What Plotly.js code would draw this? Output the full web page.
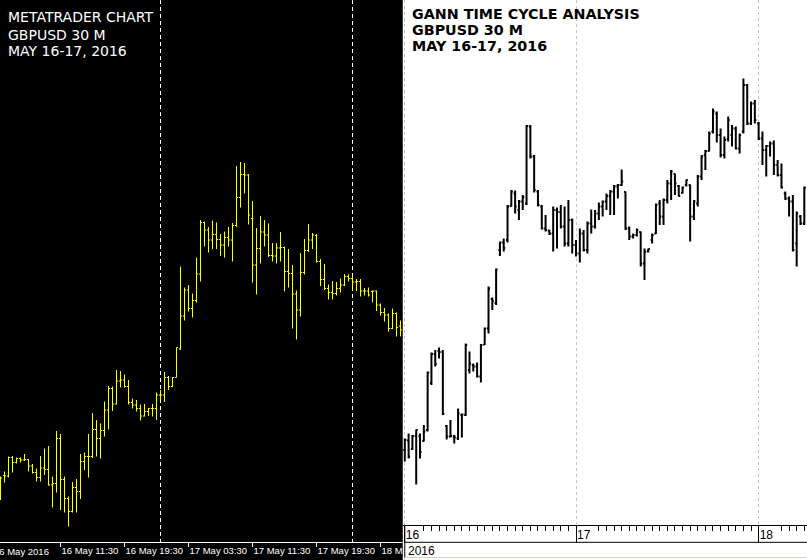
<!DOCTYPE html>
<html><head><meta charset="utf-8">
<script src="https://cdn.plot.ly/plotly-3.0.1.min.js"></script>
<style>html,body{margin:0;padding:0;background:#000;}#chart{width:807px;height:560px;}</style>
</head><body><div id="chart"></div>
<script>
// ---------- LEFT: MetaTrader chart, GBPUSD 30 M, bars from 16 May 2016 04:00 ----------
const leftStart = Date.UTC(2016, 4, 16, 4, 0);
const leftOpen = [1.44040,1.44049,1.44048,1.44085,1.44075,1.44083,1.44080,1.44081,1.44068,1.44055,
1.44045,1.44064,1.44061,1.44030,1.44033,1.44123,1.44041,1.44003,1.43977,1.44025,
1.44017,1.44077,1.44087,1.44087,1.44141,1.44123,1.44139,1.44180,1.44223,1.44192,
1.44238,1.44240,1.44227,1.44195,1.44190,1.44183,1.44168,1.44177,1.44183,1.44183,
1.44210,1.44210,1.44245,1.44227,1.44245,1.44302,1.44368,1.44420,1.44383,1.44399,
1.44452,1.44555,1.44540,1.44520,1.44531,1.44521,1.44510,1.44525,1.44520,1.44549,
1.44605,1.44651,1.44650,1.44563,1.44470,1.44503,1.44536,1.44530,1.44489,1.44488,
1.44504,1.44505,1.44457,1.44453,1.44412,1.44380,1.44455,1.44499,1.44520,1.44529,
1.44477,1.44441,1.44423,1.44415,1.44413,1.44423,1.44430,1.44447,1.44443,1.44436,
1.44437,1.44418,1.44418,1.44417,1.44418,1.44390,1.44375,1.44370,1.44343,1.44373,1.44348];
const leftHigh = [1.44047,1.44057,1.44087,1.44088,1.44085,1.44085,1.44092,1.44082,1.44072,1.44063,
1.44088,1.44103,1.44108,1.44047,1.44138,1.44132,1.44047,1.44007,1.44036,1.44042,
1.44092,1.44095,1.44132,1.44174,1.44160,1.44153,1.44197,1.44228,1.44227,1.44260,
1.44258,1.44251,1.44240,1.44203,1.44200,1.44191,1.44192,1.44184,1.44192,1.44215,
1.44220,1.44256,1.44248,1.44245,1.44305,1.44467,1.44425,1.44430,1.44413,1.44485,
1.44560,1.44557,1.44546,1.44559,1.44555,1.44532,1.44537,1.44546,1.44554,1.44668,
1.44676,1.44674,1.44652,1.44598,1.44544,1.44568,1.44560,1.44553,1.44514,1.44514,
1.44536,1.44507,1.44502,1.44470,1.44419,1.44494,1.44522,1.44552,1.44534,1.44532,
1.44482,1.44472,1.44431,1.44438,1.44436,1.44443,1.44452,1.44451,1.44448,1.44442,
1.44442,1.44424,1.44425,1.44419,1.44419,1.44393,1.44384,1.44373,1.44383,1.44375,1.44359];
const leftLow = [1.44000,1.44035,1.44045,1.44055,1.44073,1.44075,1.44078,1.44057,1.44053,1.44037,
1.44037,1.44050,1.44029,1.43985,1.44015,1.43980,1.43975,1.43947,1.43975,1.43975,
1.44002,1.44060,1.44045,1.44084,1.44087,1.44083,1.44127,1.44141,1.44178,1.44191,
1.44225,1.44225,1.44191,1.44183,1.44177,1.44159,1.44167,1.44168,1.44167,1.44160,
1.44200,1.44196,1.44220,1.44226,1.44245,1.44300,1.44359,1.44377,1.44365,1.44395,
1.44437,1.44507,1.44495,1.44502,1.44502,1.44488,1.44485,1.44507,1.44477,1.44546,
1.44585,1.44613,1.44551,1.44435,1.44411,1.44473,1.44507,1.44486,1.44477,1.44473,
1.44477,1.44417,1.44425,1.44343,1.44321,1.44367,1.44451,1.44496,1.44502,1.44475,
1.44428,1.44420,1.44401,1.44401,1.44409,1.44415,1.44428,1.44437,1.44418,1.44418,
1.44407,1.44409,1.44407,1.44395,1.44378,1.44369,1.44357,1.44337,1.44342,1.44327,1.44327];
const leftClose = [1.44044,1.44048,1.44085,1.44075,1.44083,1.44080,1.44081,1.44068,1.44055,1.44045,
1.44064,1.44061,1.44030,1.44033,1.44123,1.44041,1.44003,1.43977,1.44025,1.44017,
1.44077,1.44087,1.44087,1.44141,1.44123,1.44139,1.44180,1.44223,1.44192,1.44238,
1.44240,1.44227,1.44195,1.44190,1.44183,1.44168,1.44177,1.44183,1.44183,1.44210,
1.44210,1.44245,1.44227,1.44245,1.44305,1.44368,1.44420,1.44383,1.44399,1.44452,
1.44555,1.44540,1.44520,1.44531,1.44521,1.44510,1.44525,1.44520,1.44549,1.44605,
1.44651,1.44650,1.44570,1.44470,1.44503,1.44536,1.44530,1.44489,1.44488,1.44504,
1.44505,1.44457,1.44453,1.44412,1.44380,1.44455,1.44499,1.44520,1.44530,1.44477,
1.44441,1.44423,1.44415,1.44413,1.44423,1.44430,1.44447,1.44443,1.44436,1.44437,
1.44418,1.44418,1.44410,1.44418,1.44390,1.44375,1.44370,1.44343,1.44373,1.44345,1.44340];
const leftTickVals = ['2016-05-16 11:30','2016-05-16 19:30','2016-05-17 03:30','2016-05-17 11:30','2016-05-17 19:30','2016-05-18 03:30'];
const leftTickText = ['16 May 11:30','16 May 19:30','17 May 03:30','17 May 11:30','17 May 19:30','18 May 03:30'];
const leftFirstLabel = '16 May 2016';
const leftDaySeparators = ['2016-05-17 00:00','2016-05-18 00:00'];
const leftTitle = ['METATRADER CHART','GBPUSD 30 M','MAY 16-17, 2016'];

// ---------- RIGHT: Gann time cycle analysis, bars from 16 May 2016 01:30 ----------
const rightStart = Date.UTC(2016, 4, 16, 1, 30);
const rightOpen = [1.44100,1.44119,1.44102,1.44128,1.44128,1.44118,1.44140,1.44234,1.44292,1.44298,
1.44296,1.44148,1.44127,1.44127,1.44123,1.44170,1.44170,1.44260,1.44270,1.44267,
1.44247,1.44311,1.44343,1.44402,1.44394,1.44500,1.44515,1.44520,1.44588,1.44613,
1.44580,1.44597,1.44593,1.44747,1.44687,1.44617,1.44587,1.44543,1.44539,1.44533,
1.44580,1.44576,1.44547,1.44513,1.44560,1.44510,1.44493,1.44533,1.44500,1.44553,
1.44547,1.44573,1.44587,1.44597,1.44608,1.44617,1.44627,1.44630,1.44616,1.44543,
1.44527,1.44530,1.44536,1.44473,1.44497,1.44520,1.44533,1.44593,1.44567,1.44600,
1.44633,1.44652,1.44628,1.44614,1.44630,1.44630,1.44567,1.44593,1.44647,1.44690,
1.44698,1.44737,1.44773,1.44730,1.44690,1.44722,1.44730,1.44743,1.44703,1.44737,
1.44830,1.44753,1.44793,1.44753,1.44723,1.44700,1.44708,1.44713,1.44670,1.44650,
1.44613,1.44603,1.44597,1.44513,1.44567,1.44553];
const rightHigh = [1.44123,1.44133,1.44130,1.44141,1.44133,1.44150,1.44257,1.44295,1.44300,1.44305,
1.44300,1.44150,1.44160,1.44130,1.44183,1.44173,1.44313,1.44297,1.44273,1.44275,
1.44312,1.44345,1.44427,1.44405,1.44463,1.44517,1.44523,1.44590,1.44620,1.44619,
1.44600,1.44610,1.44750,1.44750,1.44690,1.44620,1.44590,1.44570,1.44540,1.44587,
1.44585,1.44590,1.44587,1.44600,1.44563,1.44520,1.44543,1.44540,1.44557,1.44581,
1.44580,1.44595,1.44599,1.44613,1.44620,1.44630,1.44632,1.44661,1.44617,1.44547,
1.44533,1.44543,1.44537,1.44503,1.44503,1.44533,1.44593,1.44600,1.44603,1.44640,
1.44660,1.44653,1.44630,1.44627,1.44641,1.44631,1.44600,1.44650,1.44690,1.44700,
1.44737,1.44783,1.44777,1.44743,1.44727,1.44767,1.44750,1.44747,1.44733,1.44843,
1.44832,1.44797,1.44800,1.44756,1.44737,1.44710,1.44717,1.44719,1.44680,1.44673,
1.44617,1.44607,1.44610,1.44577,1.44570,1.44627];
const rightLow = [1.44077,1.44083,1.44100,1.44031,1.44083,1.44117,1.44137,1.44230,1.44267,1.44283,
1.44170,1.44121,1.44125,1.44113,1.44120,1.44125,1.44168,1.44253,1.44257,1.44245,
1.44235,1.44310,1.44333,1.44380,1.44390,1.44488,1.44497,1.44515,1.44587,1.44573,
1.44560,1.44580,1.44590,1.44683,1.44615,1.44587,1.44541,1.44537,1.44530,1.44497,
1.44503,1.44543,1.44507,1.44507,1.44493,1.44487,1.44475,1.44497,1.44493,1.44533,
1.44543,1.44560,1.44567,1.44580,1.44570,1.44570,1.44603,1.44628,1.44540,1.44520,
1.44523,1.44527,1.44467,1.44440,1.44495,1.44513,1.44532,1.44550,1.44550,1.44593,
1.44600,1.44610,1.44607,1.44613,1.44627,1.44517,1.44560,1.44587,1.44640,1.44660,
1.44697,1.44733,1.44715,1.44685,1.44683,1.44717,1.44707,1.44701,1.44693,1.44733,
1.44750,1.44750,1.44753,1.44720,1.44670,1.44647,1.44687,1.44650,1.44647,1.44623,
1.44600,1.44567,1.44497,1.44467,1.44550,1.44550];
const rightClose = [1.44120,1.44087,1.44128,1.44140,1.44096,1.44137,1.44255,1.44292,1.44272,1.44296,
1.44172,1.44127,1.44128,1.44125,1.44173,1.44171,1.44310,1.44273,1.44267,1.44247,
1.44310,1.44343,1.44423,1.44398,1.44461,1.44515,1.44504,1.44587,1.44617,1.44587,
1.44597,1.44606,1.44748,1.44687,1.44620,1.44590,1.44543,1.44540,1.44533,1.44580,
1.44576,1.44547,1.44513,1.44560,1.44510,1.44493,1.44533,1.44500,1.44553,1.44547,
1.44573,1.44587,1.44597,1.44608,1.44617,1.44627,1.44630,1.44637,1.44543,1.44527,
1.44530,1.44540,1.44473,1.44497,1.44502,1.44530,1.44590,1.44567,1.44600,1.44633,
1.44657,1.44633,1.44608,1.44625,1.44640,1.44567,1.44597,1.44647,1.44687,1.44698,
1.44733,1.44777,1.44730,1.44690,1.44720,1.44760,1.44743,1.44703,1.44730,1.44830,
1.44753,1.44793,1.44760,1.44723,1.44700,1.44708,1.44713,1.44670,1.44650,1.44625,
1.44603,1.44597,1.44500,1.44573,1.44553,1.44625];
const rightDayTicks = ['2016-05-16 01:30','2016-05-17 00:00','2016-05-18 00:00'];
const rightDayText = ['16','17','18'];
const rightYearText = '2016';
const rightTitle = ['GANN TIME CYCLE ANALYSIS','GBPUSD 30 M','MAY 16-17, 2016'];

// ---------- helpers ----------
const HALF_HOUR = 1800000;
function fmt(ms){ return new Date(ms).toISOString().slice(0,19).replace('T',' '); }
function barTimes(start, n){ const out=[]; for(let k=0;k<n;k++) out.push(fmt(start + k*HALF_HOUR)); return out; }
const leftX = barTimes(leftStart, leftOpen.length);
const rightX = barTimes(rightStart, rightOpen.length);

const leftRange = [fmt(leftStart - 0.125*HALF_HOUR), fmt(leftStart + 100.625*HALF_HOUR)];
const rightRange = [fmt(rightStart - 0.605*HALF_HOUR), fmt(rightStart + 105.71*HALF_HOUR)];
const yTop = 1.45;
const leftYRange = [yTop - 541.7*0.00002, yTop];
const rightYRange = [yTop - 560*0.00002, yTop];

// hourly minor ticks on the right time scale (none right behind each day label)
const hourTicks = [];
for (let t = Date.UTC(2016,4,16,2,0); t <= Date.UTC(2016,4,18,6,0); t += 3600000) {
  const d = new Date(t); const h = d.getUTCHours(); const day = d.getUTCDate();
  if (h === 0) continue;
  if (day === 16 && h < 4) continue;
  if (day !== 16 && h < 3) continue;
  hourTicks.push(fmt(t));
}

const traces = [
  {type:'ohlc', x:leftX, open:leftOpen, high:leftHigh, low:leftLow, close:leftClose,
   xaxis:'x', yaxis:'y', tickwidth:0.4, hoverinfo:'skip',
   increasing:{line:{color:'#ffff00', width:1}}, decreasing:{line:{color:'#ffff00', width:1}}},
  {type:'ohlc', x:rightX, open:rightOpen, high:rightHigh, low:rightLow, close:rightClose,
   xaxis:'x2', yaxis:'y2', tickwidth:0.4, hoverinfo:'skip',
   increasing:{line:{color:'#000000', width:2}}, decreasing:{line:{color:'#000000', width:2}}}
];

const W = 807, H = 560;
const px = v => v / W, py = v => 1 - v / H;

const annotations = [];
leftTitle.forEach((t, k) => annotations.push({text:t, xref:'paper', yref:'paper', x:px(5.5), y:py([17.2,34.5,51.2][k]),
  xanchor:'left', yanchor:'middle', showarrow:false, font:{family:'DejaVu Sans', size:14, color:'#ffffff'}}));
rightTitle.forEach((t, k) => annotations.push({text:t, xref:'paper', yref:'paper', x:px(410), y:py([13.7,30.3,45.7][k]),
  xanchor:'left', yanchor:'middle', showarrow:false, font:{family:'DejaVu Sans', size:14.3, weight:'bold', color:'#000000'}}));
annotations.push({text:leftFirstLabel, xref:'paper', yref:'paper', x:px(-8), y:py(551.7),
  xanchor:'left', yanchor:'middle', showarrow:false, font:{family:'Liberation Sans', size:9.5, color:'#ffffff'}});
annotations.push({text:rightYearText, xref:'x2', yref:'paper', x:rightDayTicks[0], y:py(550.8),
  xanchor:'left', yanchor:'middle', showarrow:false, xshift:1, font:{family:'Liberation Sans', size:12, color:'#000000'}});

const shapes = [
  {type:'rect', xref:'x2', yref:'y2', x0:rightRange[0], x1:rightRange[1], y0:rightYRange[0], y1:rightYRange[1],
   fillcolor:'#ffffff', line:{width:0}, layer:'below'},
  {type:'rect', xref:'paper', yref:'paper', x0:px(405.8), x1:1, y0:0, y1:py(542.8), fillcolor:'#ffffff', line:{width:0}, layer:'above'},
  {type:'line', xref:'paper', yref:'paper', x0:px(404.8), x1:1, y0:py(542.3), y1:py(542.3), line:{color:'#000000', width:1}, layer:'above'},
  {type:'line', xref:'paper', yref:'paper', x0:px(404.8), x1:1, y0:py(557.5), y1:py(557.5), line:{color:'#d6d3c6', width:1}, layer:'above'},
  {type:'line', xref:'x2', yref:'paper', x0:rightDayTicks[0], x1:rightDayTicks[0], y0:py(557.5), y1:py(525), line:{color:'#000000', width:1}, layer:'above'}
];

const layout = {
  width:W, height:H, margin:{l:0,r:0,t:0,b:0,pad:0}, autosize:false,
  paper_bgcolor:'#000000', plot_bgcolor:'#000000', showlegend:false, hovermode:false,
  xaxis:{domain:[0, px(403)], type:'date', range:leftRange, rangeslider:{visible:false}, automargin:false,
    showline:true, linecolor:'#ffffff', linewidth:1, ticks:'outside', ticklen:4, tickwidth:1, tickcolor:'#ffffff',
    tickvals:leftTickVals, ticktext:leftTickText, ticklabelposition:'outside right', tickangle:0,
    tickfont:{family:'Liberation Sans', size:9.5, color:'#ffffff'}, showgrid:false, zeroline:false,
    minor:{tickvals:leftDaySeparators, showgrid:true, gridcolor:'#ffffff', griddash:'4px,3px', gridwidth:1, ticks:''}},
  yaxis:{domain:[1 - 541.7/H, 1], range:leftYRange, showticklabels:false, showgrid:false, zeroline:false, ticks:'', automargin:false},
  xaxis2:{domain:[px(402.5), 1], type:'date', range:rightRange, rangeslider:{visible:false}, automargin:false,
    anchor:'free', position:1 - 525/H,
    showline:true, linecolor:'#000000', linewidth:1, ticks:'outside', ticklen:17, tickwidth:1, tickcolor:'#000000',
    tickvals:rightDayTicks, ticktext:rightDayText, ticklabelposition:'outside right', ticklabelstandoff:-1, tickangle:0,
    tickfont:{family:'Liberation Sans', size:12, color:'#000000'},
    showgrid:true, gridcolor:'#c4c4c4', griddash:'3px,3px', gridwidth:1, zeroline:false,
    minor:{tickvals:hourTicks, ticks:'outside', ticklen:5, tickwidth:1, tickcolor:'#000000', showgrid:false}},
  yaxis2:{domain:[0, 1], range:rightYRange, anchor:'x2', showticklabels:false, showgrid:false, zeroline:false, ticks:'', automargin:false},
  shapes:shapes, annotations:annotations
};

Plotly.newPlot('chart', traces, layout, {staticPlot:true, displayModeBar:false});
</script></body></html>
